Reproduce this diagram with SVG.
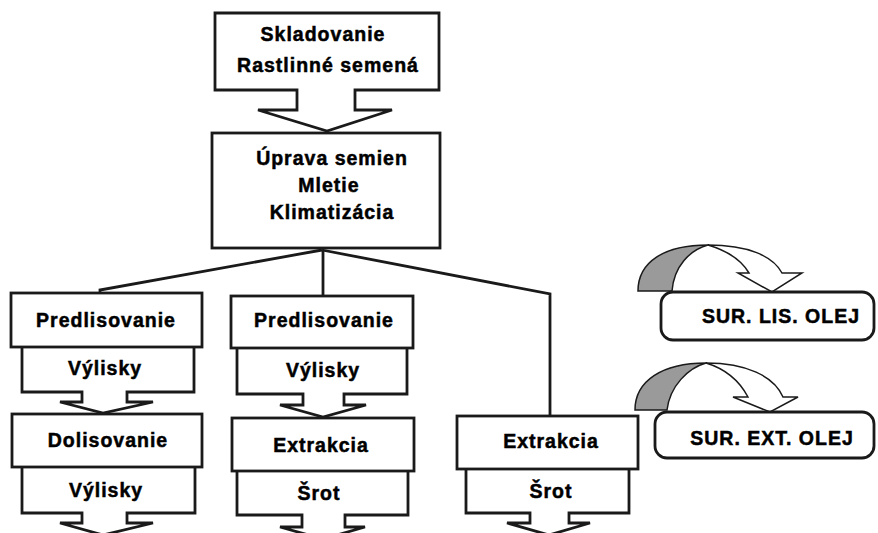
<svg xmlns="http://www.w3.org/2000/svg" width="878" height="533" viewBox="0 0 878 533">
<style>
.b{fill:#fff;stroke:#1a1a1a;stroke-width:2.8;stroke-linejoin:miter}
.c{fill:none;stroke:#1a1a1a;stroke-width:2.8}
.t{font-family:"Liberation Sans",Arial,sans-serif;font-weight:bold;font-size:19.5px;letter-spacing:1px;fill:#000;stroke:#000;stroke-width:0.5;text-anchor:middle}
.g{fill:#9a9a9a;stroke:#1a1a1a;stroke-width:1.5}
.w{fill:#fff;stroke:#1a1a1a;stroke-width:1.5}
</style>
<rect width="878" height="533" fill="#fff"/>
<g id="connectors">
<polyline class="c" points="100,293 100,290 322,250"/>
<line class="c" x1="323" y1="250" x2="323" y2="296"/>
<polyline class="c" points="322,250 550,294 550,416"/>
</g>
<g id="skladovanie">
<path class="b" d="M215,13 L439,13 L439,90 L355,90 L355,110 L392,110 L327,131 L258,110 L297,110 L297,90 L215,90 Z"/>
<text class="t" x="323" y="41">Skladovanie</text>
<text class="t" x="328" y="72">Rastlinné semená</text>
</g>
<g id="uprava">
<rect class="b" x="212" y="133" width="228" height="115"/>
<text class="t" x="332" y="165">Úprava semien</text>
<text class="t" x="329" y="192">Mletie</text>
<text class="t" x="332" y="219">Klimatizácia</text>
</g>
<g id="predlisovanie1">
<path class="b" d="M22,347 L22,392 L82,392 L82,402 L60,402 L103,413 L153,402 L127,402 L127,392 L194,392 L194,347"/>
<rect class="b" x="11" y="293" width="191" height="54"/>
<text class="t" x="106" y="327">Predlisovanie</text>
<text class="t" x="105" y="375">Výlisky</text>
</g>
<g id="dolisovanie">
<path class="b" d="M22,467 L22,513 L82,513 L82,523 L60,523 L103,535 L153,523 L127,523 L127,513 L195,513 L195,467"/>
<rect class="b" x="12" y="414" width="190" height="53"/>
<text class="t" x="108" y="447">Dolisovanie</text>
<text class="t" x="106" y="497">Výlisky</text>
</g>
<g id="predlisovanie2">
<path class="b" d="M237,348 L237,394 L303,394 L303,405 L280,405 L323,417 L366,405 L344,405 L344,394 L407,394 L407,348"/>
<rect class="b" x="231" y="296" width="182" height="52"/>
<text class="t" x="324" y="327">Predlisovanie</text>
<text class="t" x="323" y="377">Výlisky</text>
</g>
<g id="extrakcia1">
<path class="b" d="M237,471 L237,515 L302,515 L302,527 L280,527 L323,539 L365,527 L345,527 L345,515 L408,515 L408,471"/>
<rect class="b" x="232" y="418" width="182" height="53"/>
<text class="t" x="321" y="452">Extrakcia</text>
<text class="t" x="319" y="500">Šrot</text>
</g>
<g id="extrakcia2">
<path class="b" d="M466,469 L466,513 L530,513 L530,523 L507,523 L549,535 L590,523 L569,523 L569,513 L629,513 L629,469"/>
<rect class="b" x="457" y="416" width="181" height="53"/>
<text class="t" x="551" y="448">Extrakcia</text>
<text class="t" x="551" y="498">Šrot</text>
</g>
<g id="sur-lis-olej">
<path class="g" d="M638,291 C638,262 664,245 708,245 C690,250 674,266 672,291 Z"/>
<path class="w" d="M708,245 C748,245 773,256 782,273 L802,273 L772,292 L738,273 L749,273 C742,261 728,251 708,245 Z"/>
<rect class="b" x="661" y="292" width="213" height="48" rx="12"/>
<text class="t" x="781" y="323">SUR. LIS. OLEJ</text>
</g>
<g id="sur-ext-olej">
<path class="g" d="M635,410 C635,381 662,363 706,363 C688,368 670,386 667,410 Z"/>
<path class="w" d="M706,363 C746,363 774,376 783,397 L798,397 L770,412 L733,397 L748,397 C740,382 726,369 706,363 Z"/>
<rect class="b" x="655" y="412" width="219" height="46" rx="12"/>
<text class="t" x="772" y="445">SUR. EXT. OLEJ</text>
</g>
</svg>
